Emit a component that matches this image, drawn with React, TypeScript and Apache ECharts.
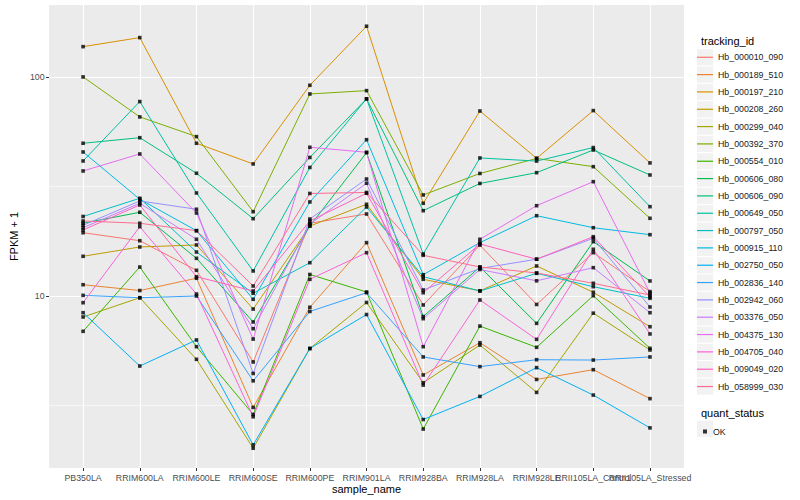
import React, { useEffect, useRef } from "react";
import * as echarts from "echarts";

const categories = [
  "PB350LA", "RRIM600LA", "RRIM600LE", "RRIM600SE", "RRIM600PE", "RRIM901LA",
  "RRIM928BA", "RRIM928LA", "RRIM928LE", "RRII105LA_Control", "RRII105LA_Stressed",
];

const trackingIds = [
  "Hb_000010_090", "Hb_000189_510", "Hb_000197_210", "Hb_000208_260", "Hb_000299_040",
  "Hb_000392_370", "Hb_000554_010", "Hb_000606_080", "Hb_000606_090", "Hb_000649_050",
  "Hb_000797_050", "Hb_000915_110", "Hb_002750_050", "Hb_002836_140", "Hb_002942_060",
  "Hb_003376_050", "Hb_004375_130", "Hb_004705_040", "Hb_009049_020", "Hb_058999_030",
];

const palette = [
  "#F8766D", "#EA8331", "#D89000", "#C09B00", "#A3A500", "#7CAE00", "#39B600", "#00BB4E",
  "#00BF7D", "#00C1A3", "#00BFC4", "#00BAE0", "#00B0F6", "#35A2FF", "#9590FF", "#C77CFF",
  "#E76BF3", "#FA62DB", "#FF62BC", "#FF6C91",
];

// FPKM + 1 per sample, in category order
const hb000010_090 = [19.45, 17.88, 13.1, 5.0, 21.48, 23.68, 9.1, 17.06, 9.15, 15.77, 10.48];
const hb000189_510 = [11.26, 10.59, 12.05, 3.1, 8.88, 17.52, 4.36, 6.12, 4.16, 4.61, 3.4];
const hb000197_210 = [137.5, 151.2, 49.8, 40.07, 91.6, 170.4, 26.5, 69.9, 42.5, 70.2, 40.5];
const hb000208_260 = [15.18, 16.74, 17.1, 8.72, 20.87, 26.22, 11.92, 10.56, 13.71, 10.4, 7.24];
const hb000299_040 = [8.02, 9.82, 5.14, 2.02, 5.76, 9.34, 4.02, 5.97, 3.63, 8.35, 5.67];
const hb000392_370 = [100, 65.7, 53.4, 24.26, 83.6, 86.6, 28.92, 36.25, 42.45, 38.94, 22.63];
const hb000554_010 = [6.9, 13.56, 5.87, 2.88, 12.54, 10.43, 2.47, 7.29, 5.83, 10.03, 5.77];
const hb000606_080 = [21.48, 24.11, 14.86, 7.61, 20.87, 45.1, 8.06, 13.56, 7.5, 17.7, 11.71];
const hb000606_090 = [49.8, 52.8, 36.33, 22.54, 42.9, 79.4, 24.52, 32.64, 36.56, 46.4, 35.68];
const hb000649_050 = [41.34, 77.2, 29.53, 13.01, 38.62, 79.4, 15.55, 42.67, 41.3, 47.6, 25.57];
const hb000797_050 = [23.07, 27.93, 15.88, 10.29, 14.19, 25.49, 12.25, 10.54, 12.69, 11.03, 9.76];
const hb000915_110 = [45.45, 27.64, 19.87, 9.66, 26.87, 51.7, 12.51, 17.52, 23.26, 20.5, 19.05];
const hb002750_050 = [8.39, 4.79, 6.3, 2.09, 5.76, 8.23, 2.73, 3.48, 4.71, 3.53, 2.5];
const hb002836_140 = [10.07, 9.82, 10.0, 4.1, 8.5, 10.35, 5.27, 4.76, 5.12, 5.1, 5.27];
const hb002942_060 = [21.03, 27.15, 24.89, 4.43, 22.47, 34.21, 10.65, 13.35, 14.72, 18.34, 8.91];
const hb003376_050 = [20.5, 26.5, 18.15, 7.09, 21.3, 32.71, 7.88, 13.21, 11.73, 13.47, 8.39];
const hb004375_130 = [37.22, 44.5, 23.93, 6.36, 47.75, 45.3, 5.87, 18.15, 25.84, 33.26, 10.32];
const hb004705_040 = [9.32, 20.72, 10.21, 2.81, 11.92, 15.77, 3.92, 9.59, 6.34, 16.34, 6.71];
const hb009049_020 = [20.02, 26.03, 12.25, 10.54, 22.0, 29.43, 10.35, 17.28, 14.72, 18.65, 9.9];
const hb058999_030 = [22.0, 21.48, 19.87, 11.11, 29.38, 29.69, 15.34, 13.56, 12.74, 11.43, 10.1];

const seriesValues = [
  hb000010_090, hb000189_510, hb000197_210, hb000208_260, hb000299_040,
  hb000392_370, hb000554_010, hb000606_080, hb000606_090, hb000649_050,
  hb000797_050, hb000915_110, hb002750_050, hb002836_140, hb002942_060,
  hb003376_050, hb004375_130, hb004705_040, hb009049_020, hb058999_030,
];

const quantStatus = ["OK"];
const yMajorTicks = [10, 100];
const yMinorTicks = [3.1623, 31.623];
const yRange = [1.64, 213];

const FONT = "'Liberation Sans', Arimo, Arial, Helvetica, sans-serif";

export default function App() {
  const ref = useRef<HTMLDivElement>(null);

  useEffect(() => {
    document.body.style.margin = "0";
    if (!ref.current) return;
    const chart = echarts.init(ref.current, null, { renderer: "svg" });
    const xTicks = categories.map((_, i) => i + 1);
    // labels are split over two axes so the two overlapping last labels are both kept (as in the reference)
    const xLabelsA = xTicks.filter((v) => v % 2 === 1);
    const xLabelsB = xTicks.filter((v) => v % 2 === 0);

    const lineSeries = trackingIds.map((name, k) => ({
      name,
      type: "line",
      data: seriesValues[k].map((v, i) => [i + 1, v]),
      symbol: "none",
      lineStyle: { color: palette[k], width: 1 },
      itemStyle: { color: palette[k] },
      z: 2,
      silent: true,
    }));

    const points: number[][] = [];
    seriesValues.forEach((arr) => arr.forEach((v, i) => points.push([i + 1, v])));

    const legendTop = 48.6;
    const pitch = 17.33;
    const keyW = 16;
    const lineKeyIcon = `path://M0,0M${keyW},${pitch}M0,${pitch / 2 - 0.6}h${keyW}v1.2h-${keyW}z`;

    const keyRects: any[] = trackingIds.map((_, i) => ({
      type: "rect",
      shape: { x: 697, y: legendTop + i * pitch + 0.6, width: 16.2, height: 16.2 },
      style: { fill: "#F2F2F2" },
      z: 0,
    }));
    keyRects.push({
      type: "rect",
      shape: { x: 697, y: 420.6, width: 16.2, height: 16.2 },
      style: { fill: "#F2F2F2" },
      z: 0,
    });

    const xLabelStyle = {
      hideOverlap: false,
      fontSize: 8.8, lineHeight: 9, color: "#4D4D4D", margin: 5, fontFamily: FONT,
      formatter: (v: number) => categories[Math.round(v) - 1] ?? "",
    };

    chart.setOption({
      animation: false,
      textStyle: { fontFamily: FONT },
      grid: {
        left: 40, right: 116, top: 5, bottom: 32,
        show: true, backgroundColor: "#EBEBEB", borderWidth: 0,
      },
      title: [
        { text: "tracking_id", left: 696, top: 30, textStyle: { fontSize: 11, fontWeight: "normal", color: "#000", fontFamily: FONT } },
        { text: "quant_status", left: 696, top: 402, textStyle: { fontSize: 11, fontWeight: "normal", color: "#000", fontFamily: FONT } },
      ],
      legend: [
        {
          data: trackingIds.map((name) => ({ name, icon: lineKeyIcon })),
          orient: "vertical",
          left: 697, top: legendTop,
          itemWidth: keyW, itemHeight: pitch, itemGap: 0,
          padding: 0,
          selectedMode: false,
          textStyle: { fontSize: 8.8, color: "#1A1A1A", fontFamily: FONT },
        },
        {
          data: quantStatus,
          orient: "vertical",
          left: 703, top: 427,
          itemWidth: 4, itemHeight: 4, itemGap: 0,
          padding: 0,
          selectedMode: false,
          icon: "rect",
          textStyle: { fontSize: 8.8, color: "#1A1A1A", fontFamily: FONT, padding: [0, 0, 0, 1] },
        },
      ],
      graphic: keyRects,
      xAxis: [
        {
          type: "value",
          min: 0.4, max: 11.6,
          name: "sample_name",
          nameLocation: "middle",
          nameGap: 15.5,
          nameMoveOverlap: false,
          nameTextStyle: { fontSize: 11, lineHeight: 11, color: "#000", fontFamily: FONT },
          axisLine: { show: false },
          axisTick: { show: true, length: 3, lineStyle: { color: "#333", width: 1 }, customValues: xTicks },
          axisLabel: { ...xLabelStyle, customValues: xLabelsA, showMinLabel: true, showMaxLabel: true },
          splitLine: { show: true, lineStyle: { color: "#FFFFFF", width: 1.1 } },
        },
        {
          type: "value",
          min: 0.4, max: 11.6,
          position: "bottom",
          offset: 0,
          axisLine: { show: false },
          axisTick: { show: false, customValues: xLabelsB },
          axisLabel: { ...xLabelStyle, customValues: xLabelsB, showMinLabel: true, showMaxLabel: true },
          splitLine: { show: false },
        },
      ],
      yAxis: [
        {
          type: "log",
          logBase: 10,
          min: yRange[0], max: yRange[1],
          name: "FPKM + 1",
          nameLocation: "middle",
          nameGap: 22,
          nameTextStyle: { fontSize: 11, color: "#000", fontFamily: FONT },
          axisLine: { show: false },
          axisTick: { show: true, length: 3, lineStyle: { color: "#333", width: 1 }, customValues: yMajorTicks },
          axisLabel: {
            customValues: yMajorTicks,
            fontSize: 8.8, color: "#4D4D4D", margin: 4.5, fontFamily: FONT,
            formatter: (v: number) => String(Math.round(v)),
          },
          splitLine: { show: true, lineStyle: { color: "#FFFFFF", width: 1.1 } },
        },
        {
          type: "log",
          logBase: 10,
          min: yRange[0], max: yRange[1],
          position: "left",
          axisLine: { show: false },
          axisTick: { show: false, customValues: yMinorTicks },
          axisLabel: { show: false, customValues: yMinorTicks },
          splitLine: { show: true, lineStyle: { color: "#FFFFFF", width: 0.55 } },
        },
      ],
      series: [
        ...lineSeries,
        {
          name: "OK",
          type: "scatter",
          data: points,
          symbol: "rect",
          symbolSize: 3.6,
          itemStyle: { color: "#000000" },
          z: 3,
          silent: true,
        },
      ],
    });
    return () => chart.dispose();
  }, []);

  return <div ref={ref} style={{ width: 800, height: 500, position: "absolute", left: 0, top: 0 }} />;
}
